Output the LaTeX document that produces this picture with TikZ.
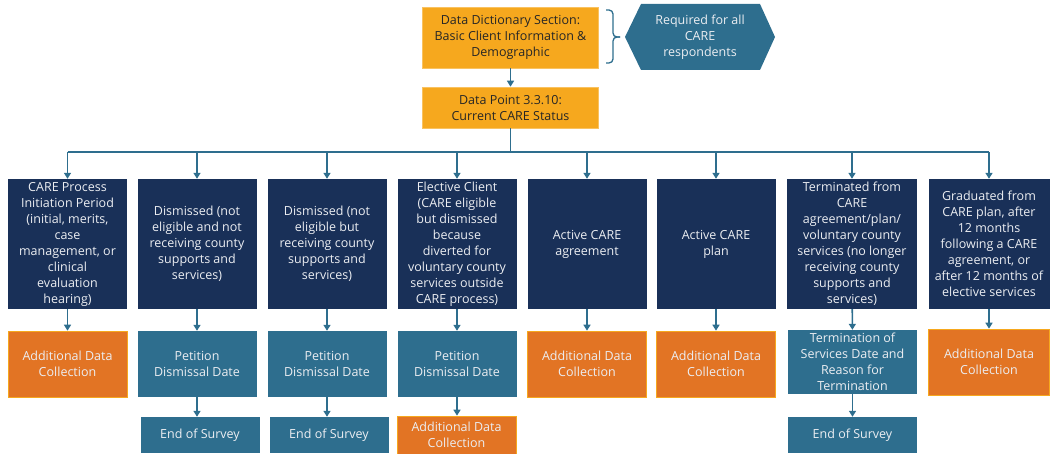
\documentclass[tikz,border=0pt]{standalone}
\usepackage{fontspec}
\setmainfont{Open Sans}
\usetikzlibrary{arrows.meta}

\definecolor{careNavy}{RGB}{25,48,88}
\definecolor{careTeal}{RGB}{46,110,142}
\definecolor{careOrange}{RGB}{226,116,36}
\definecolor{careGold}{RGB}{246,168,30}
\definecolor{careText}{RGB}{236,238,242}

\begin{document}
\begin{tikzpicture}[x=1pt, y=-1pt,
    every node/.style={inner sep=0pt, align=center, font=\fontsize{12.5}{16}\selectfont},
    header/.style={fill=careGold, draw=careGold!70!white, line width=.6pt, text=black!85, minimum width=176pt},
    status/.style={fill=careNavy, text=careText, minimum width=119pt, minimum height=130pt},
    datebox/.style={fill=careTeal, text=careText, minimum width=119pt, minimum height=66pt},
    extra/.style={fill=careOrange, draw=careGold, line width=.6pt, text=careText, minimum width=119pt, minimum height=66pt},
    endbox/.style={fill=careTeal, text=careText, minimum width=119pt, minimum height=36pt},
    link/.style={careTeal, line width=1.6pt},
    arrow/.style={link, -{Triangle[length=6pt,width=7pt]}}]
    \useasboundingbox (0,0) rectangle (1050,454);
    \coordinate (bus) at (0,152);

    % top of the chart
    \node[header, minimum height=61pt] (dict) at (510.5,37.5) {Data Dictionary Section:\\Basic Client Information \&\\Demographic};
    \node[header, minimum height=41pt] (point) at (510.5,107.5) {Data Point 3.3.10:\\Current CARE Status};
    \draw[careTeal, line width=1.3pt, rounded corners=4pt] (606,10) -- (613,10) -- (613,37) -- (620,37); % bracket
    \draw[careTeal, line width=1.3pt, rounded corners=4pt] (606,63) -- (613,63) -- (613,37) -- (620,37);
    \fill[careTeal] (625,37) -- (641,4) -- (760,4) -- (775,37) -- (760,70) -- (641,70) -- cycle; % hexagon
    \node[text=careText] (req) at (700,37) {Required for all\\CARE\\respondents};

    % statuses
    \node[status] (s1) at (67.5,244) {CARE Process\\Initiation Period\\(initial, merits,\\case\\management, or\\clinical\\evaluation\\hearing)};
    \node[status] (s2) at (197,244) {Dismissed (not\\eligible and not\\receiving county\\supports and\\services)};
    \node[status] (s3) at (327,244) {Dismissed (not\\eligible but\\receiving county\\supports and\\services)};
    \node[status] (s4) at (457,244) {Elective Client\\(CARE eligible\\but dismissed\\because\\diverted for\\voluntary county\\services outside\\CARE process)};
    \node[status] (s5) at (587,244) {Active CARE\\agreement};
    \node[status] (s6) at (716,244) {Active CARE\\plan};
    \node[status, minimum width=130pt] (s7) at (852,244) {Terminated from\\CARE\\agreement/plan/\\voluntary county\\services (no longer\\receiving county\\supports and\\services)};
    \node[status, minimum width=121pt] (s8) at (989,244) {Graduated from\\CARE plan, after\\12 months\\following a CARE\\agreement, or\\after 12 months of\\elective services};

    % second row
    \node[extra] (a1) at (67.5,364) {Additional Data\\Collection};
    \node[datebox] (d2) at (197,364) {Petition\\Dismissal Date};
    \node[datebox] (d3) at (327,364) {Petition\\Dismissal Date};
    \node[datebox] (d4) at (457,364) {Petition\\Dismissal Date};
    \node[extra] (a5) at (587,364) {Additional Data\\Collection};
    \node[extra] (a6) at (716,364) {Additional Data\\Collection};
    \node[datebox, minimum width=129pt, minimum height=64pt] (d7) at (852.5,362) {Termination of\\Services Date and\\Reason for\\Termination};
    \node[extra, minimum width=121pt] (a8) at (989,362) {Additional Data\\Collection};

    % last row
    \node[endbox] (e2) at (200,435) {End of Survey};
    \node[endbox] (e3) at (329,435) {End of Survey};
    \node[extra, minimum height=38pt] (a4) at (456.5,435) {Additional Data\\Collection};
    \node[endbox, minimum width=129pt] (e7) at (852.5,435) {End of Survey};

    % connectors
    \draw[arrow] (dict) -- (point);
    \draw[link] (point) -- (point |- bus);
    \draw[link] (s1 |- bus) -- (s8 |- bus);
    \foreach \i in {1,...,8}
        \draw[arrow] (s\i |- bus) -- (s\i);
    \draw[arrow] (s1) -- (a1);
    \draw[arrow] (s2) -- (d2);
    \draw[arrow] (s3) -- (d3);
    \draw[arrow] (s4) -- (d4);
    \draw[arrow] (s5) -- (a5);
    \draw[arrow] (s6) -- (a6);
    \draw[arrow] (s7) -- (d7);
    \draw[arrow] (s8) -- (a8);
    \draw[arrow] (d2) -- (d2 |- e2.north);
    \draw[arrow] (d3) -- (d3 |- e3.north);
    \draw[arrow] (d4) -- (d4 |- a4.north);
    \draw[arrow] (d7) -- (d7 |- e7.north);
\end{tikzpicture}
\end{document}
